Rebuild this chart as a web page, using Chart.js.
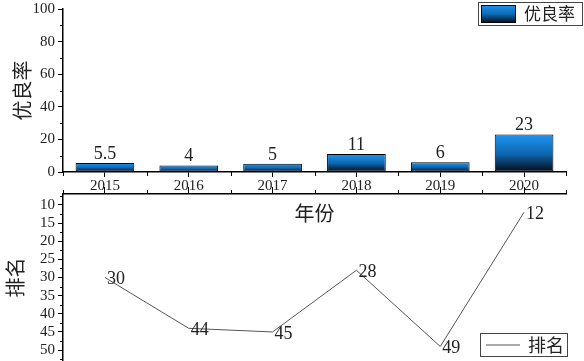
<!DOCTYPE html>
<html lang="zh">
<head>
  <meta charset="UTF-8">
  <title>优良率与排名</title>
  <script src="https://cdn.jsdelivr.net/npm/chart.js"></script>
  <style>
    body { margin: 0; background: #fff; }
    #wrap { position: relative; width: 584px; height: 361px; overflow: hidden; }
    canvas { position: absolute; left: 0; }
    #rankChart { top: 184px; }
    #rateChart { top: 0; }
  </style>
</head>
<body>
  <div id="wrap">
    <canvas id="rankChart" width="584" height="177"></canvas>
    <canvas id="rateChart" width="584" height="230"></canvas>
  </div>
  <script>
    // data
    const years = ['2015', '2016', '2017', '2018', '2019', '2020'];
    const goodRate = [5.5, 4, 5, 11, 6, 23];
    const rank = [30, 44, 45, 28, 49, 12];
    const rateTicks = [0, 20, 40, 60, 80, 100];
    const rateMinor = [10, 30, 50, 70, 90];
    const rankTicks = [10, 15, 20, 25, 30, 35, 40, 45, 50];
    const rankMinor = [7.5, 12.5, 17.5, 22.5, 27.5, 32.5, 37.5, 42.5, 47.5, 52.5];

    const serif = "'Liberation Serif', 'DejaVu Serif', serif";
    const cjk = "'Noto Sans CJK SC', sans-serif";
    const ink = '#222';

    function barGradient(g, top, bottom) {
      const grad = g.createLinearGradient(0, top, 0, bottom);
      grad.addColorStop(0, '#1d96f2');
      grad.addColorStop(0.5, '#0f68b2');
      grad.addColorStop(1, '#040c16');
      return grad;
    }

    // fixed sizes so both plots line up
    function fixWidth(w) {
      return function (s) { s.width = w; s.paddingTop = 0; s.paddingBottom = 0; };
    }
    function fixHeight(h) {
      return function (s) { s.height = h; s.paddingLeft = 0; s.paddingRight = 0; };
    }

    // short extra tick marks (minor ticks and category edges)
    const extraTicks = {
      id: 'extraTicks',
      afterDraw(chart, args, opts) {
        const c = chart.ctx;
        c.save();
        c.strokeStyle = '#000';
        c.lineWidth = 1;
        const y = chart.scales.y;
        opts.yMinor.forEach(v => {
          const py = Math.round(y.getPixelForValue(v)) + 0.5;
          c.beginPath();
          c.moveTo(y.right - 3, py);
          c.lineTo(y.right, py);
          c.stroke();
        });
        const x = chart.scales.x;
        const step = (x.right - x.left) / years.length;
        for (let i = 0; i <= years.length; i++) {
          const px = Math.round(x.left + i * step) + 0.5;
          const base = opts.xUp ? x.bottom : x.top;
          c.beginPath();
          c.moveTo(px, base);
          c.lineTo(px, base + (opts.xUp ? -4 : 4));
          c.stroke();
        }
        c.restore();
      }
    };

    // value labels next to the marks
    const valueLabels = {
      id: 'valueLabels',
      afterDatasetsDraw(chart, args, opts) {
        const c = chart.ctx;
        const meta = chart.getDatasetMeta(0);
        const data = chart.data.datasets[0].data;
        c.save();
        c.font = '18px ' + serif;
        c.fillStyle = ink;
        meta.data.forEach((el, i) => {
          if (opts.mode === 'bar') {
            c.textAlign = 'center';
            c.textBaseline = 'bottom';
            c.fillText(String(data[i]), el.x, el.y);
          } else {
            c.textAlign = 'left';
            c.textBaseline = 'middle';
            c.fillText(String(data[i]), el.x + 2, el.y + 2);
          }
        });
        c.restore();
      }
    };

    // boxed legend drawn inside the plot
    const boxLegend = {
      id: 'boxLegend',
      afterDraw(chart, args, opts) {
        const c = chart.ctx;
        const b = opts.box;
        c.save();
        c.strokeStyle = '#444';
        c.lineWidth = 1;
        c.strokeRect(b[0] + 0.5, b[1] + 0.5, b[2], b[3]);
        const midY = b[1] + b[3] / 2 + 0.5;
        if (opts.mode === 'bar') {
          c.fillStyle = barGradient(c, b[1] + 3, b[1] + b[3] - 2);
          c.fillRect(b[0] + 3, b[1] + 3, 34, b[3] - 5);
          c.strokeStyle = '#000';
          c.strokeRect(b[0] + 3.5, b[1] + 3.5, 34, b[3] - 6);
        } else {
          c.strokeStyle = '#555';
          c.beginPath();
          c.moveTo(b[0] + 6, midY);
          c.lineTo(b[0] + 40, midY);
          c.stroke();
        }
        c.font = opts.size + 'px ' + cjk;
        c.fillStyle = ink;
        c.textAlign = 'left';
        c.textBaseline = 'middle';
        c.fillText(chart.data.datasets[0].label, b[0] + opts.textX, midY);
        c.restore();
      }
    };

    const rateChart = new Chart(document.getElementById('rateChart'), {
      type: 'bar',
      data: {
        labels: years,
        datasets: [{
          label: '优良率',
          data: goodRate,
          borderColor: '#000',
          borderWidth: 1,
          borderSkipped: false,
          barPercentage: 0.7,
          categoryPercentage: 1,
          backgroundColor: function (ctx) {
            const chart = ctx.chart;
            if (!chart.chartArea || ctx.type !== 'data') return '#1478c8';
            const y = chart.scales.y;
            return barGradient(chart.ctx, y.getPixelForValue(ctx.parsed.y), y.getPixelForValue(0));
          }
        }]
      },
      options: {
        responsive: false,
        animation: false,
        layout: { padding: { top: 9, right: 18, left: 0, bottom: 0 } },
        plugins: {
          legend: { display: false },
          tooltip: { enabled: false },
          extraTicks: { yMinor: rateMinor, xUp: false },
          valueLabels: { mode: 'bar' },
          boxLegend: { mode: 'bar', box: [478, 2, 104, 23], textX: 46, size: 17 }
        },
        scales: {
          x: {
            offset: true,
            afterFit: fixHeight(58),
            grid: { offset: false, drawOnChartArea: false, tickLength: 5, tickColor: '#000', tickWidth: 1 },
            border: { display: true, color: '#000', width: 1.5 },
            ticks: { color: ink, font: { family: serif, size: 15 }, padding: 0, maxRotation: 0, autoSkip: false },
            title: { display: true, text: '年份', color: ink, font: { family: cjk, size: 20 }, padding: { top: 0, bottom: 5 } }
          },
          y: {
            min: 0,
            max: 100,
            afterFit: fixWidth(63),
            afterBuildTicks: s => { s.ticks = rateTicks.map(v => ({ value: v })); },
            grid: { drawOnChartArea: false, tickLength: 5, tickColor: '#000', tickWidth: 1 },
            border: { display: true, color: '#000', width: 1.5 },
            ticks: { color: ink, font: { family: serif, size: 15 }, padding: 3, autoSkip: false },
            title: { display: true, text: '优良率', color: ink, font: { family: cjk, size: 20 }, padding: { top: 10, bottom: 0 } }
          }
        }
      },
      plugins: [extraTicks, valueLabels, boxLegend]
    });

    const rankChart = new Chart(document.getElementById('rankChart'), {
      type: 'line',
      data: {
        labels: years,
        datasets: [{
          label: '排名',
          data: rank,
          borderColor: '#555',
          borderWidth: 1,
          pointRadius: 0,
          tension: 0,
          fill: false
        }]
      },
      options: {
        responsive: false,
        animation: false,
        layout: { padding: { top: 0, right: 18, left: 0, bottom: 0 } },
        plugins: {
          legend: { display: false },
          tooltip: { enabled: false },
          extraTicks: { yMinor: rankMinor, xUp: true },
          valueLabels: { mode: 'line' },
          boxLegend: { mode: 'line', box: [480, 149, 87, 23], textX: 48, size: 18 }
        },
        scales: {
          x: {
            position: 'top',
            offset: true,
            afterFit: fixHeight(10),
            grid: { offset: false, drawOnChartArea: false, tickLength: 7, tickColor: '#000', tickWidth: 1 },
            border: { display: true, color: '#000', width: 1.5 },
            ticks: { display: false }
          },
          y: {
            min: 7,
            max: 53,
            reverse: true,
            afterFit: fixWidth(63),
            afterBuildTicks: s => { s.ticks = rankTicks.map(v => ({ value: v })); },
            grid: { drawOnChartArea: false, tickLength: 5, tickColor: '#000', tickWidth: 1 },
            border: { display: true, color: '#000', width: 1.5 },
            ticks: { color: ink, font: { family: serif, size: 15 }, padding: 3, autoSkip: false },
            title: { display: true, text: '排名', color: ink, font: { family: cjk, size: 20 }, padding: { top: 3, bottom: 0 } }
          }
        }
      },
      plugins: [extraTicks, valueLabels, boxLegend]
    });
  </script>
</body>
</html>
